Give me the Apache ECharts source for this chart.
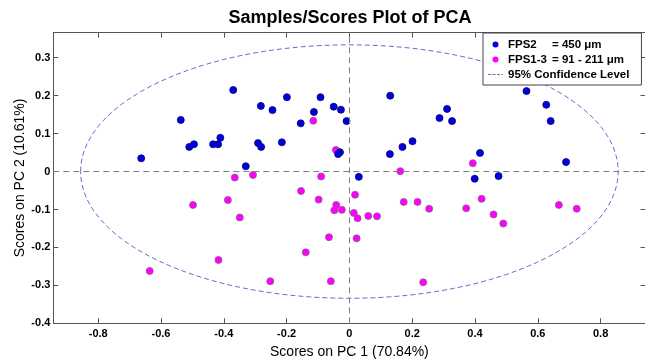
<!DOCTYPE html>
<html>
<head>
<meta charset="utf-8">
<script src="https://cdn.jsdelivr.net/npm/echarts@6/dist/echarts.min.js"></script>
<style>
  html, body { margin: 0; padding: 0; background: #ffffff; }
  #chart { width: 645px; height: 359px; }
</style>
</head>
<body>
<div id="chart"></div>
<script>
// PCA scores, group FPS2 (450 µm)
const fps2PC1 = [-0.370, -0.537, -0.663, -0.510, -0.495, -0.434, -0.418, -0.411, -0.330, -0.282,
                 -0.245, -0.199, -0.092, -0.113, -0.155, -0.050, -0.027, -0.009, -0.291, -0.281,
                 -0.215, -0.030, -0.036, 0.030, 0.130, 0.287, 0.311, 0.327, 0.129, 0.169,
                 0.201, 0.564, 0.627, 0.641, 0.416, 0.690, 0.399, 0.475];
const fps2PC2 = [0.215, 0.136, 0.035, 0.065, 0.072, 0.072, 0.072, 0.089, 0.014, 0.173,
                 0.162, 0.196, 0.196, 0.157, 0.127, 0.171, 0.163, 0.133, 0.075, 0.065,
                 0.077, 0.051, 0.046, -0.014, 0.200, 0.141, 0.165, 0.133, 0.046, 0.065,
                 0.080, 0.212, 0.176, 0.133, 0.049, 0.025, -0.019, -0.012];

// PCA scores, group FPS1-3 (91 - 211 µm)
const fps13PC1 = [-0.115, -0.365, -0.307, -0.043, -0.090, 0.162, 0.393, -0.498, -0.387, -0.349,
                  -0.417, -0.636, -0.154, -0.098, -0.042, -0.048, -0.024, 0.018, 0.014, 0.026,
                  0.060, 0.088, 0.173, 0.217, 0.254, -0.065, 0.023, -0.139, -0.252, -0.059,
                  0.235, 0.421, 0.372, 0.459, 0.490, 0.667, 0.724];
const fps13PC2 = [0.134, -0.016, -0.009, 0.057, -0.013, 0.001, 0.022, -0.088, -0.075, -0.121,
                  -0.233, -0.262, -0.051, -0.074, -0.088, -0.102, -0.101, -0.061, -0.109, -0.123,
                  -0.117, -0.118, -0.080, -0.080, -0.098, -0.173, -0.176, -0.213, -0.289, -0.289,
                  -0.292, -0.072, -0.097, -0.113, -0.137, -0.088, -0.098];

// 95% confidence limits (semi-axes of the ellipse) on PC 1 and PC 2
const limitPC1 = 0.856;
const limitPC2 = 0.334;

// Axis ranges and tick labels
const xRange = [-0.943, 0.943];
const yRange = [-0.4, 0.366];
const xTicks = [-0.8, -0.6, -0.4, -0.2, 0, 0.2, 0.4, 0.6, 0.8];
const yTicks = [-0.4, -0.3, -0.2, -0.1, 0, 0.1, 0.2, 0.3];

const seriesNames = ['FPS2 = 450 μm', 'FPS1-3 = 91 - 211 μm', '95% Confidence Level'];

const FONT = '"Liberation Sans", Arial, Helvetica, sans-serif';
const pairs = (xs, ys) => xs.map((x, i) => [x, ys[i]]);
const fmtTick = v => (Math.abs(v) < 1e-9 ? '0' : v.toFixed(1));

const frame = '#555555';
const axisCommon = {
  type: 'value',
  axisLine: { show: true, onZero: false, lineStyle: { color: frame, width: 1 } },
  splitLine: { show: false }
};
const legendFont = { fontFamily: FONT, fontWeight: 'bold', fontSize: 11.5, color: '#000' };

const chart = echarts.init(document.getElementById('chart'), null, { renderer: 'canvas' });

chart.setOption({
  animation: false,
  backgroundColor: '#ffffff',
  title: {
    text: 'Samples/Scores Plot of PCA',
    left: 345,
    textAlign: 'center',
    top: 4,
    textStyle: { fontFamily: FONT, fontWeight: 'bold', fontSize: 18, color: '#000' }
  },
  grid: {
    left: 53.3, top: 32.7, width: 592.2, height: 290.6,
    containLabel: false, outerBoundsMode: 'none'
  },
  legend: {
    orient: 'vertical',
    left: 483, top: 33,
    padding: [5, 12, 4, 5],
    itemGap: 2,
    itemWidth: 15,
    itemHeight: 6,
    backgroundColor: '#ffffff',
    borderColor: '#444444',
    borderWidth: 1,
    borderRadius: 0,
    selectedMode: false,
    data: [
      { name: seriesNames[0], icon: 'circle', itemStyle: { borderWidth: 0 } },
      { name: seriesNames[1], icon: 'circle', itemStyle: { borderWidth: 0 } },
      {
        name: seriesNames[2],
        icon: 'path://M0,0h3v1h-3zM4.5,0h3v1h-3zM9,0h3v1h-3zM13.5,0h1.5v1h-1.5z',
        itemStyle: { color: '#6b6bd3' }
      }
    ],
    formatter: n => {
      const i = n.indexOf('=');
      if (i < 0) return '{c|' + n + '}';
      return '{a|' + n.slice(0, i).trim() + '}{b|' + n.slice(i) + '}';
    },
    textStyle: Object.assign({}, legendFont, {
      lineHeight: 13,
      rich: {
        a: Object.assign({}, legendFont, { width: 44 }),
        b: Object.assign({}, legendFont),
        c: Object.assign({}, legendFont)
      }
    })
  },
  xAxis: [
    Object.assign({}, axisCommon, {
      position: 'bottom',
      min: xRange[0], max: xRange[1],
      name: 'Scores on PC 1 (70.84%)',
      nameLocation: 'middle',
      nameGap: 22,
      nameMoveOverlap: false,
      nameTextStyle: { fontFamily: FONT, fontSize: 14, color: '#000' },
      axisTick: { show: true, inside: true, length: 5, customValues: xTicks, lineStyle: { color: frame } },
      axisLabel: {
        show: true, customValues: xTicks, formatter: fmtTick, margin: 5,
        fontFamily: FONT, fontWeight: 'bold', fontSize: 11, color: '#000'
      }
    }),
    Object.assign({}, axisCommon, {
      position: 'top',
      min: xRange[0], max: xRange[1],
      axisTick: { show: true, inside: true, length: 5, customValues: xTicks, lineStyle: { color: frame } },
      axisLabel: { show: false }
    })
  ],
  yAxis: [
    Object.assign({}, axisCommon, {
      position: 'left',
      min: yRange[0], max: yRange[1],
      name: 'Scores on PC 2 (10.61%)',
      nameLocation: 'middle',
      nameGap: 26,
      nameMoveOverlap: false,
      nameTextStyle: { fontFamily: FONT, fontSize: 14, color: '#000' },
      axisTick: { show: true, inside: true, length: 5, customValues: yTicks, lineStyle: { color: frame } },
      axisLabel: {
        show: true, customValues: yTicks, formatter: fmtTick, margin: 3,
        fontFamily: FONT, fontWeight: 'bold', fontSize: 11, color: '#000'
      }
    }),
    Object.assign({}, axisCommon, {
      position: 'right',
      min: yRange[0], max: yRange[1],
      axisTick: { show: true, inside: true, length: 5, customValues: yTicks, lineStyle: { color: frame } },
      axisLabel: { show: false }
    })
  ],
  series: [
    {
      // dashed reference lines through the origin
      type: 'line',
      data: [],
      silent: true,
      markLine: {
        silent: true,
        symbol: ['none', 'none'],
        label: { show: false },
        lineStyle: { color: '#7f7f7f', width: 1, type: [6, 4] },
        data: [{ xAxis: 0 }, { yAxis: 0 }]
      },
      z: 1
    },
    {
      name: seriesNames[2],
      type: 'custom',
      coordinateSystem: 'cartesian2d',
      silent: true,
      data: [[0, 0, limitPC1, limitPC2]],
      itemStyle: { color: '#6b6bd3' },
      renderItem: (params, api) => {
        const c = api.coord([api.value(0), api.value(1)]);
        const s = api.size([api.value(2), api.value(3)]);
        return {
          type: 'ellipse',
          shape: { cx: c[0], cy: c[1], rx: s[0], ry: s[1] },
          style: { fill: null, stroke: '#6b6bd3', lineWidth: 1, lineDash: [5, 3] }
        };
      },
      z: 2
    },
    {
      name: seriesNames[0],
      type: 'scatter',
      data: pairs(fps2PC1, fps2PC2),
      symbol: 'circle',
      symbolSize: 7,
      itemStyle: { color: '#0000dd', borderColor: '#00007a', borderWidth: 0.8, opacity: 1 },
      z: 4
    },
    {
      name: seriesNames[1],
      type: 'scatter',
      data: pairs(fps13PC1, fps13PC2),
      symbol: 'circle',
      symbolSize: 7,
      itemStyle: { color: '#ff00ff', borderColor: '#8a5a8a', borderWidth: 0.8, opacity: 1 },
      z: 3
    }
  ]
});
</script>
</body>
</html>
